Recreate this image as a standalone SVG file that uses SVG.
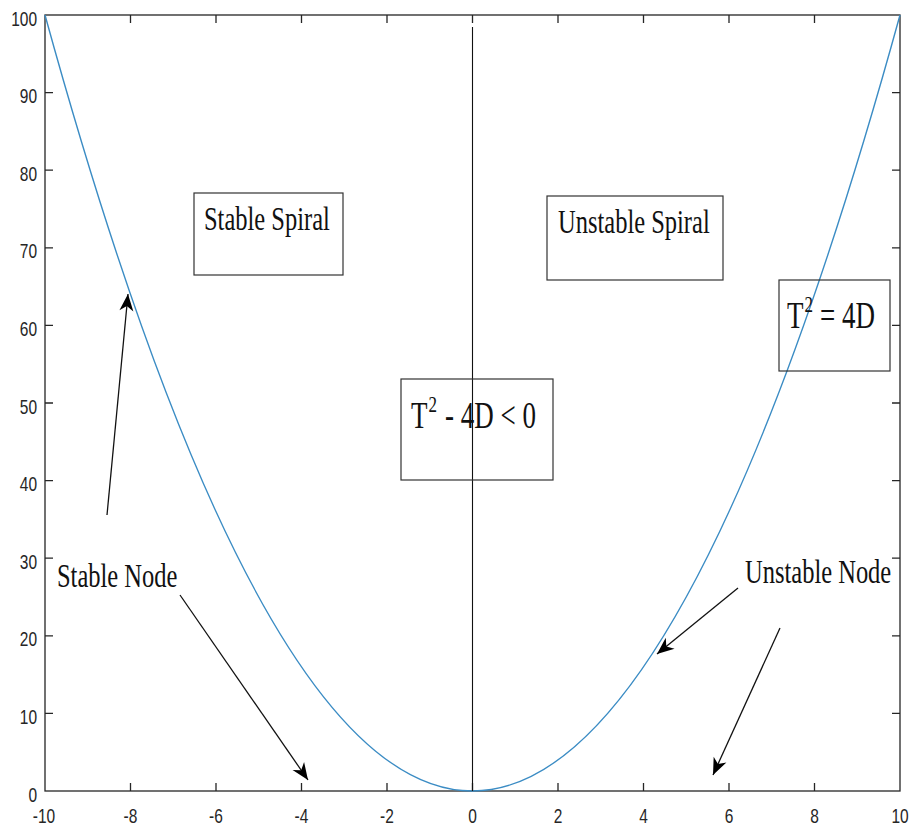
<svg xmlns="http://www.w3.org/2000/svg" width="911" height="828" viewBox="0 0 911 828">
<style>
.ax{fill:none;stroke:#262626;stroke-width:1.3}
.tk{stroke:#262626;stroke-width:1.3}
.lbl{font-family:"Liberation Sans",Arial,sans-serif;font-size:15.5px;fill:#262626}
.ser{font-family:"Liberation Serif","Times New Roman",serif;fill:#111}
.box{fill:none;stroke:#333;stroke-width:1.2}
.arr{stroke:#111;stroke-width:1.3;fill:none;marker-end:url(#ah)}
</style>
<defs>
<marker id="ah" viewBox="-18 -8 19 16" refX="0" refY="0" markerWidth="19" markerHeight="16" markerUnits="userSpaceOnUse" orient="auto">
<path d="M0,0 L-17,-7 L-12,0 L-17,7 Z" fill="#000"/>
</marker>
</defs>
<rect width="911" height="828" fill="#fff"/>
<g id="axes">
<rect class="ax" x="45" y="15" width="855" height="776"/>
<g class="tk">
<path d="M130.5,791v-8M216,791v-8M301.5,791v-8M387,791v-8M472.5,791v-8M558,791v-8M643.5,791v-8M729,791v-8M814.5,791v-8"/>
<path d="M130.5,15v8M216,15v8M301.5,15v8M387,15v8M472.5,15v8M558,15v8M643.5,15v8M729,15v8M814.5,15v8"/>
<path d="M45,713.4h8M45,635.8h8M45,558.2h8M45,480.6h8M45,403h8M45,325.4h8M45,247.8h8M45,170.2h8M45,92.6h8"/>
<path d="M900,713.4h-8M900,635.8h-8M900,558.2h-8M900,480.6h-8M900,403h-8M900,325.4h-8M900,247.8h-8M900,170.2h-8M900,92.6h-8"/>
</g>
<g class="lbl" text-anchor="end">
<text transform="translate(37,801.5) scale(1,1.33)">0</text>
<text transform="translate(37,723.9) scale(1,1.33)">10</text>
<text transform="translate(37,646.3) scale(1,1.33)">20</text>
<text transform="translate(37,568.7) scale(1,1.33)">30</text>
<text transform="translate(37,491.1) scale(1,1.33)">40</text>
<text transform="translate(37,413.5) scale(1,1.33)">50</text>
<text transform="translate(37,335.9) scale(1,1.33)">60</text>
<text transform="translate(37,258.3) scale(1,1.33)">70</text>
<text transform="translate(37,180.7) scale(1,1.33)">80</text>
<text transform="translate(37,103.1) scale(1,1.33)">90</text>
<text transform="translate(37,25.5) scale(1,1.33)">100</text>
</g>
<g class="lbl" text-anchor="middle">
<text transform="translate(44,823) scale(1,1.33)">-10</text>
<text transform="translate(130.5,823) scale(1,1.33)">-8</text>
<text transform="translate(216,823) scale(1,1.33)">-6</text>
<text transform="translate(301.5,823) scale(1,1.33)">-4</text>
<text transform="translate(387,823) scale(1,1.33)">-2</text>
<text transform="translate(472.5,823) scale(1,1.33)">0</text>
<text transform="translate(558,823) scale(1,1.33)">2</text>
<text transform="translate(643.5,823) scale(1,1.33)">4</text>
<text transform="translate(729,823) scale(1,1.33)">6</text>
<text transform="translate(814.5,823) scale(1,1.33)">8</text>
<text transform="translate(900,823) scale(1,1.33)">10</text>
</g>
</g>
<g id="curve">
<path d="M45,15 Q472.5,1567 900,15" fill="none" stroke="#3b8cc4" stroke-width="1.4"/>
<line x1="472.5" y1="27" x2="472.5" y2="791" stroke="#111" stroke-width="1.1"/>
</g>
<g id="stable-spiral">
<rect class="box" x="194" y="193" width="149" height="82"/>
<text class="ser" font-size="24.5" transform="translate(204,230) scale(1,1.4)">Stable Spiral</text>
</g>
<g id="unstable-spiral">
<rect class="box" x="547" y="196" width="176" height="84"/>
<text class="ser" font-size="24.5" transform="translate(558,233) scale(1,1.4)">Unstable Spiral</text>
</g>
<g id="discriminant">
<rect class="box" x="401" y="379" width="152" height="101"/>
<text class="ser" font-size="27" transform="translate(411,428) scale(1,1.4)">T</text>
<text class="ser" font-size="17" transform="translate(428.5,412) scale(1,1.4)">2</text>
<text class="ser" font-size="27" transform="translate(445,428) scale(1,1.4)">- 4D &lt; 0</text>
</g>
<g id="boundary">
<rect class="box" x="779" y="280" width="111" height="91"/>
<text class="ser" font-size="27" transform="translate(787,328) scale(1,1.4)">T</text>
<text class="ser" font-size="17" transform="translate(804.5,312) scale(1,1.4)">2</text>
<text class="ser" font-size="27" transform="translate(820,328) scale(1,1.4)">= 4D</text>
</g>
<g id="stable-node">
<text class="ser" font-size="24.5" transform="translate(57,587) scale(1,1.4)">Stable Node</text>
</g>
<g id="unstable-node">
<text class="ser" font-size="24.5" transform="translate(745,583) scale(1,1.4)">Unstable Node</text>
</g>
<g id="connectors">
<line class="arr" x1="107" y1="515" x2="128" y2="294"/>
<line class="arr" x1="180" y1="595" x2="308" y2="780"/>
<line class="arr" x1="738" y1="588" x2="657" y2="654"/>
<line class="arr" x1="780" y1="628" x2="713" y2="775"/>
</g>
</svg>
